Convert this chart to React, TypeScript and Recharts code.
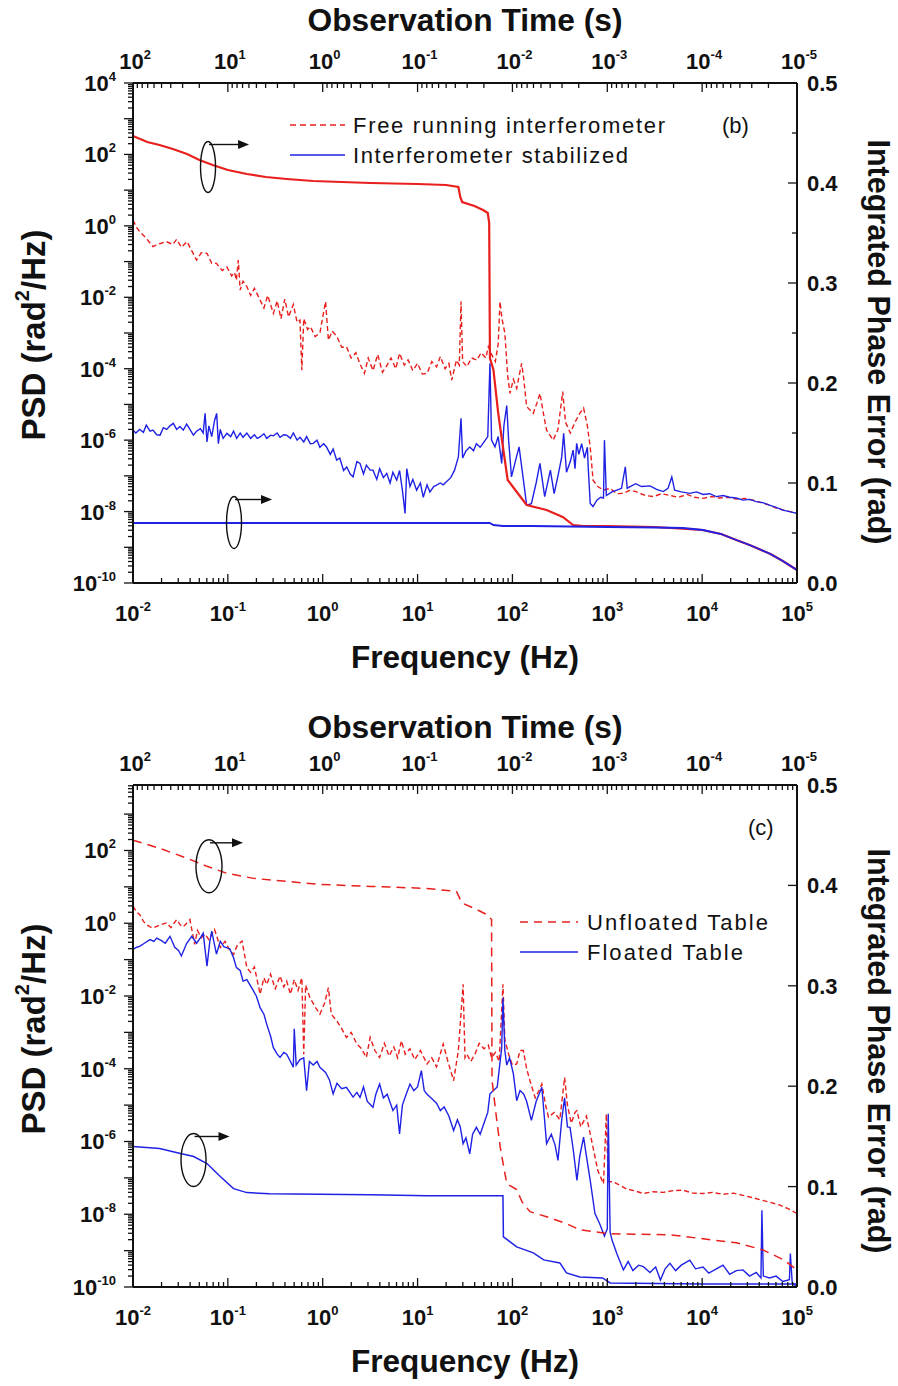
import React from "react";
import { ComposedChart, Line, XAxis, YAxis, ReferenceDot, Legend } from "recharts";

const FONT = '"Liberation Sans", Arial, Helvetica, sans-serif';
const INK = "#111111";
const RED = "#e81f1c";
const BLUE = "#1f22e4";

// ---- panel (b): [log10 f (Hz), log10 PSD (rad^2/Hz)]
const freeRunningPsd = [
  [-2.0, 0.16], [-1.96, -0.05], [-1.93, -0.16], [-1.86, -0.35], [-1.79, -0.58], [-1.72, -0.5], [-1.65, -0.44],
  [-1.58, -0.52], [-1.54, -0.38], [-1.49, -0.6], [-1.43, -0.44], [-1.38, -0.7], [-1.33, -0.96], [-1.28, -0.75],
  [-1.22, -0.77], [-1.17, -1.05], [-1.12, -1.05], [-1.06, -1.25], [-1.01, -1.15], [-0.96, -1.4], [-0.93, -1.3],
  [-0.91, -1.52], [-0.89, -0.96], [-0.87, -1.8], [-0.84, -1.55], [-0.8, -1.7], [-0.76, -1.95], [-0.72, -1.75],
  [-0.66, -2.08], [-0.62, -2.3], [-0.58, -1.95], [-0.52, -2.45], [-0.48, -2.1], [-0.44, -2.6], [-0.4, -2.05],
  [-0.36, -2.55], [-0.31, -2.2], [-0.27, -2.7], [-0.24, -2.64], [-0.22, -4.04], [-0.2, -2.6], [-0.16, -2.9],
  [-0.13, -2.82], [-0.08, -3.1], [-0.03, -3.0], [0.03, -2.12], [0.06, -3.2], [0.1, -2.95], [0.15, -3.1],
  [0.2, -3.4], [0.25, -3.38], [0.3, -3.7], [0.35, -3.55], [0.39, -3.85], [0.44, -4.13], [0.48, -3.7],
  [0.53, -4.05], [0.58, -3.6], [0.63, -4.1], [0.67, -3.94], [0.72, -3.7], [0.77, -4.0], [0.81, -3.57],
  [0.86, -3.9], [0.9, -3.75], [0.95, -4.05], [1.0, -3.85], [1.05, -4.15], [1.1, -4.13], [1.15, -3.8],
  [1.2, -3.95], [1.24, -3.66], [1.29, -4.0], [1.33, -3.85], [1.36, -4.32], [1.41, -3.76], [1.44, -3.9],
  [1.458, -2.12], [1.475, -3.8], [1.52, -3.94], [1.57, -3.7], [1.625, -3.76], [1.67, -3.55], [1.72, -3.7],
  [1.746, -3.38], [1.78, -3.6], [1.82, -3.8], [1.85, -3.3], [1.869, -2.12], [1.89, -2.6], [1.92, -3.0],
  [1.95, -4.2], [1.974, -4.69], [2.01, -4.3], [2.045, -4.55], [2.097, -3.85], [2.12, -4.3], [2.15, -5.06],
  [2.22, -5.25], [2.26, -4.95], [2.29, -4.69], [2.33, -5.3], [2.36, -5.72], [2.43, -6.0], [2.48, -5.7],
  [2.53, -4.64], [2.56, -5.5], [2.61, -5.8], [2.66, -5.5], [2.71, -5.25], [2.75, -5.1], [2.79, -5.6],
  [2.82, -6.19], [2.85, -7.12], [2.9, -7.3], [2.96, -7.4], [3.03, -7.35], [3.1, -7.5], [3.17, -7.49],
  [3.24, -7.4], [3.31, -7.45], [3.4, -7.55], [3.49, -7.58], [3.57, -7.5], [3.66, -7.55], [3.75, -7.6],
  [3.84, -7.52], [3.92, -7.6], [4.01, -7.63], [4.1, -7.58], [4.18, -7.62], [4.27, -7.6], [4.36, -7.65],
  [4.45, -7.63], [4.54, -7.68], [4.62, -7.75], [4.71, -7.82], [4.78, -7.9], [4.86, -7.96], [4.93, -8.0],
  [5.0, -8.05],
];

const stabilizedPsd = [
  [-2.0, -5.72], [-1.97, -5.8], [-1.93, -5.7], [-1.89, -5.78], [-1.86, -5.58], [-1.82, -5.75], [-1.79, -5.72],
  [-1.75, -5.85], [-1.715, -5.86], [-1.68, -5.65], [-1.645, -5.7], [-1.61, -5.6], [-1.575, -5.53], [-1.54, -5.7],
  [-1.505, -5.62], [-1.47, -5.72], [-1.434, -5.55], [-1.4, -5.7], [-1.364, -5.86], [-1.33, -5.75], [-1.29, -5.68],
  [-1.26, -5.8], [-1.24, -5.25], [-1.22, -6.05], [-1.2, -5.6], [-1.17, -5.9], [-1.14, -5.45], [-1.118, -5.25],
  [-1.1, -6.1], [-1.08, -5.7], [-1.05, -5.95], [-1.01, -5.81], [-0.97, -5.9], [-0.94, -5.75], [-0.907, -5.95],
  [-0.87, -5.8], [-0.84, -5.92], [-0.8, -5.8], [-0.76, -5.95], [-0.72, -5.85], [-0.69, -5.95], [-0.66, -5.91],
  [-0.62, -5.82], [-0.59, -5.95], [-0.55, -5.86], [-0.52, -5.88], [-0.48, -5.8], [-0.45, -5.92], [-0.41, -5.85],
  [-0.38, -5.86], [-0.34, -5.95], [-0.31, -5.8], [-0.27, -6.0], [-0.24, -5.92], [-0.2, -6.05], [-0.17, -5.9],
  [-0.13, -6.1], [-0.1, -6.09], [-0.06, -6.0], [-0.03, -6.2], [0.01, -6.1], [0.04, -6.19], [0.08, -6.4],
  [0.11, -6.25], [0.147, -6.56], [0.18, -6.5], [0.22, -6.85], [0.253, -6.75], [0.29, -6.95], [0.32, -7.03],
  [0.36, -6.6], [0.393, -6.65], [0.43, -6.95], [0.46, -6.7], [0.5, -6.84], [0.53, -6.84], [0.57, -7.1],
  [0.6, -6.8], [0.64, -7.05], [0.675, -6.93], [0.71, -7.2], [0.74, -6.9], [0.78, -7.12], [0.81, -6.85],
  [0.84, -7.4], [0.868, -8.05], [0.886, -6.8], [0.92, -7.3], [0.95, -7.1], [0.99, -7.4], [1.03, -7.2],
  [1.06, -7.6], [1.1, -7.25], [1.13, -7.45], [1.17, -7.3], [1.2, -7.26], [1.24, -7.2], [1.27, -7.25],
  [1.307, -7.16], [1.35, -7.05], [1.39, -6.84], [1.43, -6.47], [1.458, -5.39], [1.475, -6.5], [1.51, -6.3],
  [1.55, -6.19], [1.59, -6.3], [1.62, -6.1], [1.66, -6.2], [1.69, -6.09], [1.74, -5.9], [1.763, -3.85],
  [1.78, -6.0], [1.816, -6.19], [1.85, -5.9], [1.887, -6.65], [1.91, -5.6], [1.94, -5.03], [1.96, -6.0],
  [1.99, -7.03], [2.03, -6.6], [2.07, -6.19], [2.11, -7.0], [2.15, -7.82], [2.2, -7.78], [2.25, -7.2],
  [2.29, -6.65], [2.34, -7.58], [2.4, -6.84], [2.44, -7.5], [2.48, -7.0], [2.52, -6.47], [2.54, -5.81],
  [2.57, -6.9], [2.61, -6.6], [2.64, -6.28], [2.66, -6.8], [2.677, -6.09], [2.7, -6.4], [2.73, -6.1],
  [2.76, -6.5], [2.79, -6.2], [2.8, -6.8], [2.82, -7.77], [2.85, -7.86], [2.89, -7.68], [2.93, -7.6],
  [2.96, -7.62], [2.97, -6.0], [2.99, -7.55], [3.05, -7.45], [3.1, -7.4], [3.15, -7.35], [3.19, -6.75],
  [3.21, -7.35], [3.24, -7.3], [3.3, -7.22], [3.36, -7.3], [3.45, -7.28], [3.52, -7.38], [3.59, -7.44],
  [3.64, -7.35], [3.68, -7.03], [3.71, -7.4], [3.78, -7.45], [3.87, -7.49], [3.94, -7.45], [4.01, -7.52],
  [4.08, -7.5], [4.15, -7.58], [4.22, -7.55], [4.29, -7.6], [4.36, -7.62], [4.43, -7.68], [4.5, -7.66],
  [4.57, -7.72], [4.64, -7.75], [4.71, -7.82], [4.78, -7.88], [4.85, -7.96], [4.92, -8.0], [5.0, -8.05],
];

// [log10 f (Hz), integrated phase error (rad)]
const freeRunningInt = [
  [-2.0, 0.447], [-1.85, 0.441], [-1.72, 0.438], [-1.58, 0.434], [-1.43, 0.429], [-1.3, 0.423], [-1.16, 0.418],
  [-1.0, 0.413], [-0.8, 0.409], [-0.6, 0.406], [-0.38, 0.404], [-0.1, 0.402], [0.2, 0.401], [0.5, 0.4],
  [1.0, 0.399], [1.3, 0.398], [1.43, 0.396], [1.45, 0.386], [1.47, 0.381], [1.6, 0.377], [1.69, 0.373],
  [1.74, 0.37], [1.755, 0.36], [1.763, 0.225], [1.8, 0.213], [1.85, 0.17], [1.9, 0.136], [1.95, 0.103],
  [2.03, 0.093], [2.15, 0.078], [2.36, 0.073], [2.53, 0.066], [2.64, 0.058], [2.75, 0.057], [3.0, 0.057],
  [3.5, 0.056], [4.0, 0.053], [4.2, 0.049], [4.36, 0.043], [4.5, 0.038], [4.72, 0.029], [4.85, 0.022],
  [5.0, 0.013],
];

const stabilizedInt = [
  [-2.0, 0.06], [-1.0, 0.06], [0.0, 0.06], [1.0, 0.06], [1.76, 0.06], [1.8, 0.058], [1.9, 0.057],
  [2.2, 0.057], [2.6, 0.0565], [3.0, 0.056], [3.5, 0.0555], [3.8, 0.055], [4.01, 0.053], [4.2, 0.049],
  [4.36, 0.043], [4.5, 0.038], [4.6, 0.034], [4.72, 0.029], [4.85, 0.022], [5.0, 0.013],
];

// ---- panel (c)
const unfloatedPsd = [
  [-2.0, 0.47], [-1.96, 0.3], [-1.93, 0.24], [-1.89, 0.05], [-1.856, -0.04], [-1.82, -0.1], [-1.786, -0.13],
  [-1.72, -0.05], [-1.645, 0.01], [-1.6, -0.12], [-1.54, 0.1], [-1.5, -0.05], [-1.47, -0.1], [-1.4, 0.1],
  [-1.35, -0.58], [-1.32, -0.2], [-1.28, -0.4], [-1.24, -0.3], [-1.2, -0.45], [-1.14, -0.17], [-1.08, -0.67],
  [-1.03, -0.5], [-0.98, -0.75], [-0.94, -0.86], [-0.9, -0.6], [-0.85, -0.49], [-0.8, -1.22], [-0.76, -1.35],
  [-0.72, -1.2], [-0.66, -1.95], [-0.62, -1.5], [-0.59, -1.68], [-0.55, -1.4], [-0.5, -1.8], [-0.45, -1.45],
  [-0.41, -1.75], [-0.38, -1.59], [-0.34, -1.95], [-0.3, -1.55], [-0.26, -1.85], [-0.22, -1.5], [-0.2, -3.6],
  [-0.18, -1.7], [-0.134, -2.05], [-0.08, -2.3], [-0.03, -2.5], [0.02, -2.2], [0.06, -1.77], [0.09, -2.5],
  [0.147, -2.68], [0.2, -2.9], [0.25, -3.14], [0.3, -3.0], [0.36, -3.32], [0.4, -3.42], [0.46, -3.69],
  [0.5, -3.14], [0.55, -3.5], [0.6, -3.69], [0.65, -3.3], [0.7, -3.65], [0.75, -3.4], [0.79, -3.7],
  [0.83, -3.23], [0.87, -3.6], [0.92, -3.45], [0.97, -3.75], [1.03, -3.5], [1.1, -3.87], [1.15, -3.7],
  [1.2, -3.95], [1.27, -3.32], [1.32, -3.8], [1.38, -4.33], [1.43, -3.5], [1.48, -1.68], [1.5, -3.7],
  [1.52, -3.6], [1.56, -3.8], [1.605, -3.6], [1.65, -3.3], [1.7, -3.45], [1.746, -3.35], [1.78, -3.7],
  [1.82, -3.55], [1.86, -3.8], [1.9, -1.68], [1.92, -3.2], [1.96, -3.6], [2.0, -3.9], [2.045, -3.87],
  [2.08, -3.5], [2.115, -3.5], [2.15, -4.0], [2.185, -4.33], [2.24, -4.8], [2.28, -4.6], [2.31, -4.42],
  [2.35, -5.0], [2.38, -5.33], [2.44, -5.2], [2.5, -5.4], [2.55, -4.24], [2.58, -5.0], [2.62, -5.5],
  [2.66, -5.2], [2.68, -5.15], [2.72, -5.6], [2.78, -5.3], [2.85, -6.16], [2.9, -6.8], [2.96, -7.16],
  [2.99, -5.24], [3.01, -7.1], [3.06, -7.11], [3.13, -7.2], [3.2, -7.3], [3.28, -7.35], [3.38, -7.43],
  [3.48, -7.38], [3.59, -7.4], [3.7, -7.35], [3.8, -7.34], [3.9, -7.42], [4.01, -7.43], [4.11, -7.4],
  [4.22, -7.45], [4.33, -7.42], [4.43, -7.48], [4.54, -7.55], [4.64, -7.62], [4.73, -7.68], [4.82, -7.75],
  [4.91, -7.85], [5.0, -7.98],
];

const floatedPsd = [
  [-2.0, -0.72], [-1.96, -0.66], [-1.926, -0.63], [-1.88, -0.55], [-1.82, -0.45], [-1.78, -0.5], [-1.75, -0.41],
  [-1.7, -0.48], [-1.66, -0.55], [-1.61, -0.36], [-1.56, -0.66], [-1.52, -0.75], [-1.49, -0.9], [-1.434, -0.55],
  [-1.38, -0.36], [-1.33, -0.55], [-1.29, -0.4], [-1.26, -0.27], [-1.22, -1.18], [-1.19, -0.5], [-1.17, -0.22],
  [-1.14, -0.6], [-1.12, -0.85], [-1.08, -0.5], [-1.04, -0.65], [-0.98, -0.7], [-0.94, -0.95], [-0.91, -1.22],
  [-0.87, -1.3], [-0.84, -1.59], [-0.8, -1.55], [-0.75, -1.77], [-0.7, -2.0], [-0.66, -2.32], [-0.62, -2.5],
  [-0.59, -2.78], [-0.55, -3.1], [-0.52, -3.42], [-0.48, -3.6], [-0.45, -3.69], [-0.41, -3.55], [-0.38, -3.6],
  [-0.34, -3.8], [-0.31, -3.96], [-0.3, -2.9], [-0.28, -3.9], [-0.24, -3.75], [-0.2, -3.7], [-0.17, -4.6],
  [-0.14, -3.8], [-0.1, -3.9], [-0.06, -3.8], [-0.03, -3.96], [0.03, -4.1], [0.07, -4.3], [0.11, -4.69],
  [0.15, -4.4], [0.2, -4.55], [0.25, -4.51], [0.32, -4.78], [0.36, -4.65], [0.393, -4.79], [0.43, -4.5],
  [0.47, -4.9], [0.53, -5.06], [0.56, -4.7], [0.6, -4.42], [0.64, -4.8], [0.68, -4.7], [0.74, -5.15],
  [0.78, -5.0], [0.81, -5.79], [0.84, -5.0], [0.88, -4.7], [0.92, -4.42], [0.96, -4.6], [1.0, -4.5],
  [1.04, -4.05], [1.07, -4.6], [1.1, -4.7], [1.14, -4.8], [1.2, -4.95], [1.24, -5.15], [1.28, -5.05],
  [1.33, -5.3], [1.38, -5.7], [1.42, -5.4], [1.45, -5.6], [1.48, -6.06], [1.51, -5.9], [1.55, -6.34],
  [1.58, -5.8], [1.62, -5.61], [1.66, -5.8], [1.7, -5.5], [1.74, -5.2], [1.763, -4.69], [1.8, -4.6],
  [1.84, -4.5], [1.887, -3.42], [1.9, -2.05], [1.92, -3.5], [1.94, -3.9], [1.97, -3.7], [2.01, -4.14],
  [2.045, -4.88], [2.08, -4.6], [2.12, -4.7], [2.15, -4.9], [2.2, -5.42], [2.25, -4.9], [2.31, -4.51],
  [2.36, -6.06], [2.41, -5.8], [2.45, -6.1], [2.48, -6.52], [2.52, -5.4], [2.55, -4.8], [2.58, -5.6],
  [2.607, -5.61], [2.64, -6.2], [2.68, -7.07], [2.71, -6.4], [2.75, -5.88], [2.78, -6.4], [2.82, -7.07],
  [2.87, -7.98], [2.92, -8.26], [2.97, -8.6], [3.0, -8.4], [3.01, -5.24], [3.03, -8.5], [3.05, -8.71],
  [3.1, -9.08], [3.17, -9.53], [3.22, -9.3], [3.27, -9.55], [3.33, -9.4], [3.38, -9.44], [3.45, -9.6],
  [3.51, -9.45], [3.56, -9.81], [3.61, -9.5], [3.66, -9.35], [3.72, -9.55], [3.78, -9.4], [3.87, -9.26],
  [3.93, -9.5], [4.01, -9.45], [4.07, -9.62], [4.15, -9.5], [4.22, -9.4], [4.29, -9.65], [4.36, -9.55],
  [4.43, -9.53], [4.5, -9.7], [4.57, -9.6], [4.62, -9.75], [4.63, -7.89], [4.645, -9.7], [4.71, -9.75],
  [4.78, -9.7], [4.85, -9.85], [4.92, -9.8], [4.93, -9.08], [4.95, -9.9], [5.0, -9.99],
];

const unfloatedInt = [
  [-2.0, 0.445], [-1.72, 0.437], [-1.43, 0.427], [-1.22, 0.419], [-1.01, 0.412], [-0.73, 0.407], [-0.38, 0.404],
  [-0.03, 0.401], [0.5, 0.399], [1.1, 0.397], [1.41, 0.394], [1.46, 0.384], [1.48, 0.382], [1.6, 0.377],
  [1.73, 0.371], [1.78, 0.366], [1.785, 0.206], [1.83, 0.17], [1.87, 0.14], [1.94, 0.103], [2.045, 0.097],
  [2.1, 0.085], [2.185, 0.075], [2.36, 0.07], [2.57, 0.063], [2.71, 0.057], [3.03, 0.053], [3.66, 0.052],
  [4.01, 0.048], [4.36, 0.044], [4.64, 0.037], [4.86, 0.027], [5.0, 0.017],
];

const floatedInt = [
  [-2.0, 0.14], [-1.72, 0.138], [-1.5, 0.133], [-1.36, 0.13], [-1.22, 0.123], [-1.08, 0.11], [-0.94, 0.098],
  [-0.8, 0.094], [-0.56, 0.093], [0.5, 0.092], [1.1, 0.091], [1.9, 0.091], [1.905, 0.05], [2.045, 0.04],
  [2.22, 0.034], [2.33, 0.027], [2.5, 0.024], [2.57, 0.014], [2.71, 0.01], [2.95, 0.009], [3.03, 0.004],
  [4.0, 0.003], [5.0, 0.003],
];

// circle-and-arrow markers: [log10 f, phase error, rx, ry, arrow length]
const markersB = [[-1.209, 0.416, 7.5, 25.5, 41], [-0.935, 0.0605, 7.5, 26, 38]];
const markersC = [[-1.199, 0.419, 13, 26.5, 34], [-1.362, 0.1265, 12.5, 26.5, 36]];

const rightTicksB = [0, 0.05, 0.1, 0.15, 0.2, 0.25, 0.3, 0.35, 0.4, 0.45, 0.5];
const rightTicksC = [0, 0.1, 0.2, 0.3, 0.4, 0.5];

const isInt = (v: number) => Math.abs(v - Math.round(v)) < 1e-6;
const pts = (a: number[][]) => a.map(([x, y]) => ({ x, y }));

function logTicks(lo: number, hi: number) {
  const out: number[] = [];
  for (let n = Math.floor(lo); n <= Math.ceil(hi); n++) {
    if (n >= lo && n <= hi) out.push(n);
    for (let k = 2; k <= 9; k++) {
      const v = n + Math.log10(k);
      if (v > lo && v < hi) out.push(v);
    }
  }
  return out;
}
// observation time t = 1/f, minor ticks at k*10^m seconds
function timeTicks() {
  const out: number[] = [];
  for (let m = -6; m <= 2; m++) {
    for (let k = 1; k <= 9; k++) {
      const v = -(m + Math.log10(k));
      if (v >= -2 - 1e-9 && v <= 5 + 1e-9) out.push(v);
    }
  }
  return out;
}
const freqTicks = logTicks(-2, 5);

const Pow = ({ x, y, exp, anchor }: any) => (
  <text x={x} y={y} textAnchor={anchor} fontFamily={FONT} fontWeight="bold" fontSize={22} fill={INK}>
    10<tspan dy={-10} fontSize={13}>{exp}</tspan>
  </text>
);

const BottomTick = ({ x, y, payload }: any) => {
  const v = payload.value;
  const major = isInt(v);
  return (
    <g>
      <line x1={x} x2={x} y1={y} y2={y - (major ? 9 : 5)} stroke={INK} strokeWidth={1.3} />
      {major && <Pow x={x} y={y + 38} exp={Math.round(v)} anchor="middle" />}
    </g>
  );
};

const TopTick = ({ x, y, payload }: any) => {
  const v = payload.value;
  const major = isInt(v);
  return (
    <g>
      <line x1={x} x2={x} y1={y} y2={y + (major ? 9 : 5)} stroke={INK} strokeWidth={1.3} />
      {major && <Pow x={x + 2} y={y - 14} exp={-Math.round(v)} anchor="middle" />}
    </g>
  );
};

const LeftTick = ({ x, y, payload }: any) => {
  const v = payload.value;
  const major = isInt(v);
  const show = major && Math.round(v) % 2 === 0;
  return (
    <g>
      <line x1={x} x2={x - (major ? 9 : 5)} y1={y} y2={y} stroke={INK} strokeWidth={1.3} />
      {show && <Pow x={x - 17} y={y + 8} exp={Math.round(v)} anchor="end" />}
    </g>
  );
};

const RightTick = ({ x, y, payload }: any) => {
  const v = payload.value;
  const major = Math.abs(v * 10 - Math.round(v * 10)) < 1e-6;
  return (
    <g>
      <line x1={x} x2={x - (major ? 9 : 5)} y1={y} y2={y} stroke={INK} strokeWidth={1.3} />
      {major && (
        <text x={x + 10} y={y + 8} fontFamily={FONT} fontWeight="bold" fontSize={22} fill={INK}>
          {v.toFixed(1)}
        </text>
      )}
    </g>
  );
};

const Marker = ({ cx, cy, rx, ry, len }: any) => {
  const ay = cy - ry + 3;
  return (
    <g>
      <ellipse cx={cx} cy={cy} rx={rx} ry={ry} fill="none" stroke={INK} strokeWidth={1.4} />
      <line x1={cx + 1} y1={ay} x2={cx + len - 9} y2={ay} stroke={INK} strokeWidth={1.4} />
      <polygon points={`${cx + len},${ay} ${cx + len - 11},${ay - 4.5} ${cx + len - 11},${ay + 4.5}`} fill={INK} />
    </g>
  );
};

type S = { key: string; data: number[][]; color: string; dash?: string; width: number };

type PanelProps = {
  psd: S[];
  integ: S[];
  psdTop: number;
  rightTicks: number[];
  topTicks: number[];
  markers: number[][];
  plotTop: number;
  plotBottom: number;
  obsY: number;
  freqY: number;
  psdY: number;
  ipeY: number;
  legend: React.ReactNode;
  legendBox: { left: number; top: number; width: number; height: number };
};

function Panel(p: PanelProps) {
  const H = 693;
  const leftTicks = logTicks(-10, p.psdTop);
  const title = (txt: string, x: number, y: number, len: number, rot = 0) => () => (
    <text
      x={0}
      y={0}
      transform={`translate(${x},${y}) rotate(${rot})`}
      textAnchor="middle"
      dominantBaseline={rot ? "central" : "alphabetic"}
      fontFamily={FONT}
      fontWeight="bold"
      fontSize={31}
      fill={INK}
      textLength={len}
      lengthAdjust="spacingAndGlyphs"
    >
      {txt}
    </text>
  );
  const psdTitle = () => (
    <text
      transform={`translate(33,${p.psdY}) rotate(-90)`}
      textAnchor="middle"
      dominantBaseline="central"
      fontFamily={FONT}
      fontWeight="bold"
      fontSize={33}
      fill={INK}
    >
      PSD (rad<tspan dy={-11} fontSize={20}>2</tspan>
      <tspan dy={11}>/Hz)</tspan>
    </text>
  );
  return (
    <ComposedChart width={898} height={H} margin={{ top: 0, right: 0, bottom: 0, left: 0 }}>
      <XAxis
        xAxisId="f"
        dataKey="x"
        type="number"
        domain={[-2, 5]}
        orientation="bottom"
        height={H - p.plotBottom}
        ticks={freqTicks}
        interval={0}
        tickSize={0}
        tickMargin={0}
        tickLine={false}
        axisLine={{ stroke: INK, strokeWidth: 2 }}
        tick={BottomTick}
        label={{ content: title("Frequency (Hz)", 465, p.freqY, 228) }}
      />
      <XAxis
        xAxisId="t"
        dataKey="x"
        type="number"
        domain={[-2, 5]}
        orientation="top"
        height={p.plotTop}
        ticks={p.topTicks}
        interval={0}
        tickSize={0}
        tickMargin={0}
        tickLine={false}
        axisLine={{ stroke: INK, strokeWidth: 2 }}
        tick={TopTick}
        label={{ content: title("Observation Time (s)", 465, p.obsY, 315) }}
      />
      <YAxis
        yAxisId="l"
        type="number"
        domain={[-10, p.psdTop]}
        orientation="left"
        width={133}
        ticks={leftTicks}
        interval={0}
        tickSize={0}
        tickMargin={0}
        tickLine={false}
        axisLine={{ stroke: INK, strokeWidth: 2 }}
        tick={LeftTick}
        label={{ content: psdTitle }}
      />
      <YAxis
        yAxisId="r"
        type="number"
        domain={[0, 0.5]}
        orientation="right"
        width={101}
        ticks={p.rightTicks}
        interval={0}
        tickSize={0}
        tickMargin={0}
        tickLine={false}
        axisLine={{ stroke: INK, strokeWidth: 2 }}
        tick={RightTick}
        label={{ content: title("Integrated Phase Error (rad)", 878, p.ipeY, 405, 90) }}
      />
      {p.psd.map((s) => (
        <Line
          key={s.key}
          xAxisId="f"
          yAxisId="l"
          data={pts(s.data)}
          dataKey="y"
          type="linear"
          stroke={s.color}
          strokeWidth={s.width}
          strokeDasharray={s.dash}
          dot={false}
          activeDot={false}
          legendType="none"
          isAnimationActive={false}
        />
      ))}
      {p.integ.map((s) => (
        <Line
          key={s.key}
          xAxisId="t"
          yAxisId="r"
          data={pts(s.data)}
          dataKey="y"
          type="linear"
          stroke={s.color}
          strokeWidth={s.width}
          strokeDasharray={s.dash}
          dot={false}
          activeDot={false}
          legendType="none"
          isAnimationActive={false}
        />
      ))}
      {p.markers.map(([lf, v, rx, ry, len], i) => (
        <ReferenceDot
          key={i}
          xAxisId="t"
          yAxisId="r"
          x={lf}
          y={v}
          r={0}
          shape={(sp: any) => <Marker cx={sp.cx} cy={sp.cy} rx={rx} ry={ry} len={len} />}
        />
      ))}
      <Legend
        layout="vertical"
        align="center"
        verticalAlign="middle"
        width={p.legendBox.width}
        height={p.legendBox.height}
        wrapperStyle={{ ...p.legendBox, margin: 0, padding: 0 }}
        content={() => p.legend}
      />
    </ComposedChart>
  );
}

const legendText = (x: number, y: number, txt: string, len: number) => (
  <text x={x} y={y} fontFamily={FONT} fontSize={22} fill={INK} textLength={len} lengthAdjust="spacing">
    {txt}
  </text>
);

export default function App() {
  const legendB = (
    <svg width={500} height={64} style={{ display: "block" }}>
      <line x1={5} x2={60} y1={17} y2={17} stroke={RED} strokeWidth={1.6} strokeDasharray="6 4" />
      {legendText(68, 25, "Free running interferometer", 312)}
      <line x1={5} x2={60} y1={47} y2={47} stroke={BLUE} strokeWidth={1.6} />
      {legendText(68, 55, "Interferometer stabilized", 275)}
      <text x={437} y={25} fontFamily={FONT} fontSize={22} fill={INK}>(b)</text>
    </svg>
  );
  const legendC = (
    <svg width={270} height={170} style={{ display: "block" }}>
      <text x={233} y={35} fontFamily={FONT} fontSize={22} fill={INK}>(c)</text>
      <line x1={5} x2={63} y1={122} y2={122} stroke={RED} strokeWidth={1.6} strokeDasharray="8 6" />
      {legendText(72, 130, "Unfloated Table", 181)}
      <line x1={5} x2={63} y1={152} y2={152} stroke={BLUE} strokeWidth={1.6} />
      {legendText(72, 160, "Floated Table", 156)}
    </svg>
  );

  return (
    <div style={{ position: "absolute", left: 0, top: 0, width: 898, height: 1386, background: "#fff" }}>
      <div style={{ position: "absolute", left: 0, top: 0 }}>
        <Panel
          psd={[
            { key: "frp", data: freeRunningPsd, color: RED, dash: "5 3", width: 1.4 },
            { key: "stp", data: stabilizedPsd, color: BLUE, width: 1.4 },
          ]}
          integ={[
            { key: "fri", data: freeRunningInt, color: RED, width: 2.2 },
            { key: "sti", data: stabilizedInt, color: BLUE, width: 1.8 },
          ]}
          psdTop={4}
          rightTicks={rightTicksB}
          topTicks={timeTicks()}
          markers={markersB}
          plotTop={83}
          plotBottom={583}
          obsY={31}
          freqY={668}
          psdY={335}
          ipeY={342}
          legend={legendB}
          legendBox={{ left: 285, top: 108, width: 500, height: 64 }}
        />
      </div>
      <div style={{ position: "absolute", left: 0, top: 693 }}>
        <Panel
          psd={[
            { key: "ufp", data: unfloatedPsd, color: RED, dash: "5 3", width: 1.4 },
            { key: "flp", data: floatedPsd, color: BLUE, width: 1.4 },
          ]}
          integ={[
            { key: "ufi", data: unfloatedInt, color: RED, dash: "9 6", width: 1.5 },
            { key: "fli", data: floatedInt, color: BLUE, width: 1.5 },
          ]}
          psdTop={3.8}
          rightTicks={rightTicksC}
          topTicks={Array.from(new Set([...timeTicks(), ...freqTicks]))}
          markers={markersC}
          plotTop={92}
          plotBottom={594}
          obsY={45}
          freqY={679}
          psdY={336}
          ipeY={358}
          legend={legendC}
          legendBox={{ left: 515, top: 107, width: 270, height: 170 }}
        />
      </div>
    </div>
  );
}
